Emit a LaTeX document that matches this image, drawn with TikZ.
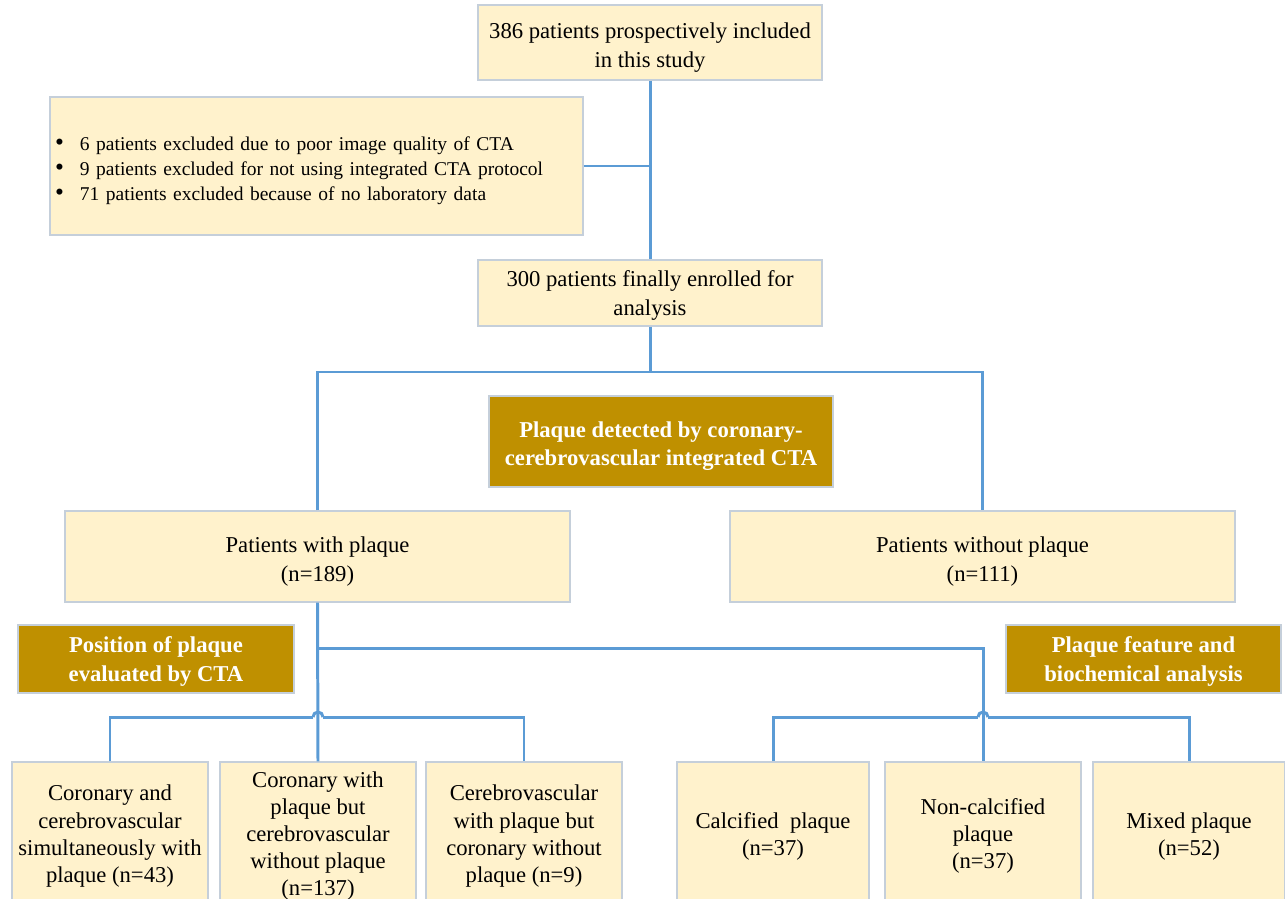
\documentclass[tikz,border=0pt]{standalone}
\usepackage{fontspec}
\setmainfont{Liberation Serif}
\usetikzlibrary{shadows}
\definecolor{cream}{HTML}{FFF2CC}
\definecolor{gold}{HTML}{BF9000}
\definecolor{edgegrey}{HTML}{C5CFDA}
\definecolor{linkblue}{HTML}{5B9BD5}
\tikzset{
  sz/.style 2 args={minimum width=#1*0.02cm, minimum height=#2*0.02cm},
  box/.style={draw=edgegrey, line width=0.6pt, fill=cream, inner sep=0pt, align=center,
    font=\fontsize{12.9}{16.2}\selectfont,
    drop shadow={shadow xshift=0.8pt, shadow yshift=-0.8pt, opacity=0.18, fill=gray}},
  goldbox/.style={box, fill=gold, text=white, font=\bfseries\fontsize{12.9}{16.2}\selectfont},
  lowbox/.style={box, font=\fontsize{12.9}{15.4}\selectfont},
  conn/.style={draw=linkblue, line width=1.7pt},
}
\newcommand\blt{\makebox[0.5cm][l]{\scalebox{1.3}{\textbullet}}}
\newcommand\dn[2][1.2pt]{\raisebox{-#1}[\height][\depth]{\begin{tabular}{@{}c@{}}#2\end{tabular}}}
\begin{document}
\begin{tikzpicture}[x=0.02cm,y=-0.02cm]
\useasboundingbox (0,0) rectangle (1285,899);
\clip (0,0) rectangle (1285,899);

\node[box, sz={344}{75}] (top) at (650,42.5) {\dn[2.8pt]{386 patients prospectively included\\in this study}};
\node[box, sz={533}{138}, align=left, inner xsep=0.1cm, text width=523*0.02cm,
      font=\fontsize{11.1}{14.2}\selectfont] (excl) at (316.5,166)
  {\rule{0pt}{13.5pt}\blt 6 patients excluded due to poor image quality of CTA\\
   \blt 9 patients excluded for not using integrated CTA protocol\\
   \blt 71 patients excluded because of no laboratory data};
\node[box, sz={344}{66}] (enr) at (650,293) {\dn{300 patients finally enrolled for\\analysis}};
\node[goldbox, sz={344}{91}] (det) at (661,441.5) {\dn[2.3pt]{Plaque detected by coronary-\\cerebrovascular integrated CTA}};
\node[box, sz={505}{91}] (wp) at (317.5,556.5) {\dn[2.8pt]{Patients with plaque\\(n=189)}};
\node[box, sz={505}{91}] (wop) at (982.5,556.5) {\dn[2.8pt]{Patients without plaque\\(n=111)}};
\node[goldbox, sz={276}{68}] (pos) at (156,659) {\dn{Position of plaque\\evaluated by CTA}};
\node[goldbox, sz={275}{68}] (feat) at (1143.5,659) {\dn{Plaque feature and\\biochemical analysis}};

\node[lowbox, sz={196}{144}] (b1) at (110,834) {\dn{Coronary and\\cerebrovascular\\simultaneously with\\plaque (n=43)}};
\node[lowbox, sz={196}{144}] (b2) at (318,834) {\dn{Coronary with\\plaque but\\cerebrovascular\\without plaque\\(n=137)}};
\node[lowbox, sz={196}{144}] (b3) at (524,834) {\dn{Cerebrovascular\\with plaque but\\coronary without\\plaque (n=9)}};
\node[lowbox, sz={192}{144}] (b4) at (773,834) {\dn{Calcified\ \ plaque\\(n=37)}};
\node[lowbox, sz={196}{144}] (b5) at (983,834) {\dn{Non-calcified\\plaque\\(n=37)}};
\node[lowbox, sz={192}{144}] (b6) at (1189,834) {\dn{Mixed plaque\\(n=52)}};

\coordinate (h1) at (650,372);
\coordinate (h2) at (318,648);
\coordinate (lj) at (318,717);
\coordinate (rj) at (983,717);

\draw[conn] (top.south) -- (enr.north);
\draw[conn] (excl.east) -- (excl.east -| top.south);
\draw[conn] (enr.south) -- (h1);
\draw[conn] (wp.north) |- (h1) -| (wop.north);
\draw[conn] (wp.south) -- (b2.north);
\draw[conn] (h2) -| (rj);
\draw[conn] (rj) -- (b5.north);
\draw[conn] (b1.north) |- ([xshift=-0.1cm]lj);
\draw[conn] ([xshift=0.1cm]lj) -| (b3.north);
\draw[conn] ([xshift=-0.1cm]lj) arc[start angle=180, end angle=0, radius=0.1cm];
\draw[conn] (b4.north) |- ([xshift=-0.1cm]rj);
\draw[conn] ([xshift=0.1cm]rj) -| (b6.north);
\draw[conn] ([xshift=-0.1cm]rj) arc[start angle=180, end angle=0, radius=0.1cm];
\end{tikzpicture}
\end{document}
